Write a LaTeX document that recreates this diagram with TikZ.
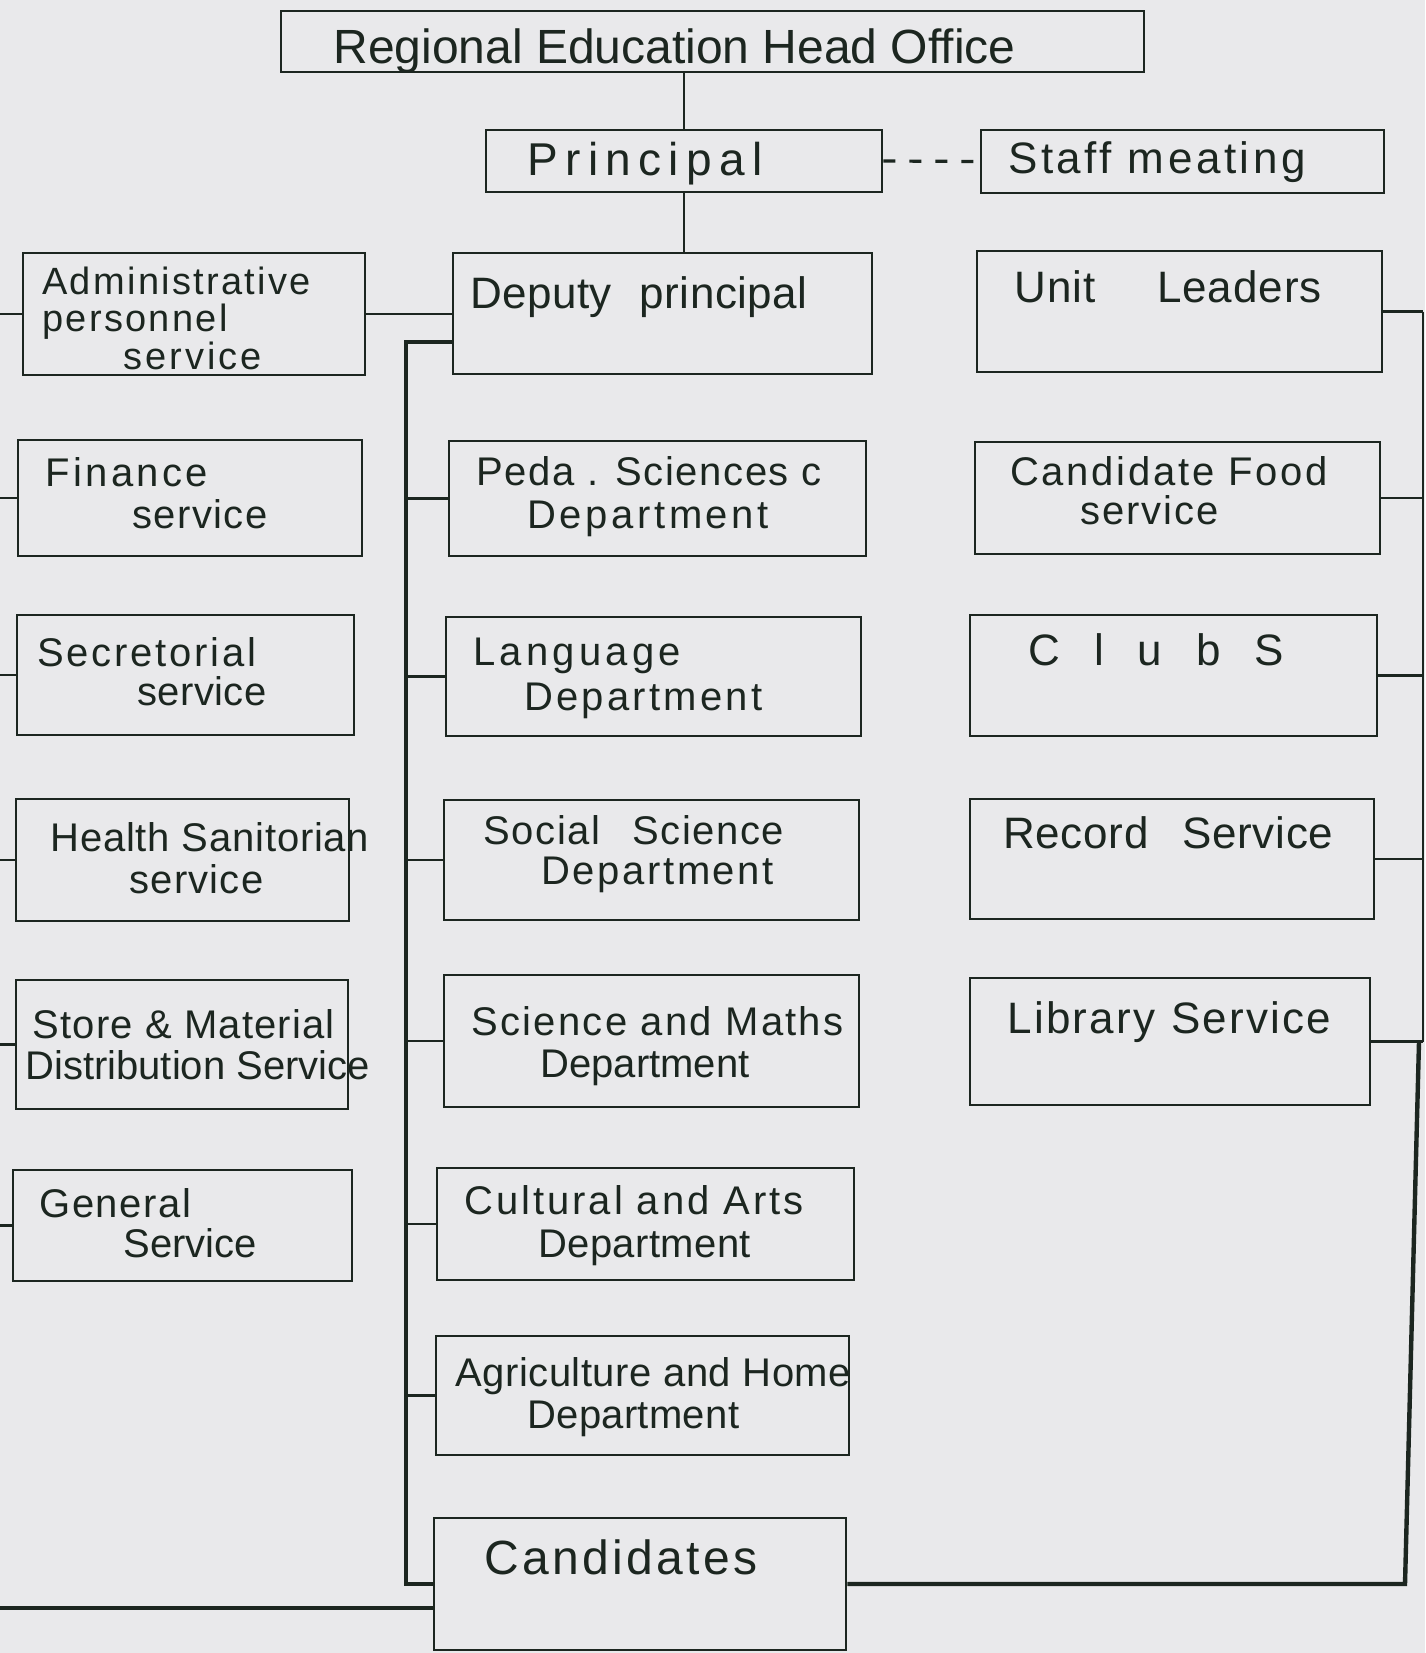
\documentclass[tikz,border=0pt]{standalone}
\usepackage{fontspec}
\setmainfont{Liberation Sans}
\usetikzlibrary{fit}
\definecolor{ink}{HTML}{1C2620}
\definecolor{paper}{HTML}{E9E9EB}
\newcommand\ftx[2]{\fontsize{#1}{#1}\selectfont\addfontfeatures{LetterSpace=#2}}
\begin{document}
\begin{tikzpicture}[x=0.5pt,y=-0.5pt,
  box/.style={draw=ink, line width=1.4pt, inner sep=0pt},
  lbl/.style={anchor=base west, inner sep=0pt, text=ink},
  conn/.style={draw=ink, line width=1.4pt},
  trunk/.style={draw=ink, line width=2.2pt}]
\useasboundingbox (0,0) rectangle (1425,1653);
\fill[paper] (0,0) rectangle (1425,1653);

% ---- boxes ----
\node[box, fit={(281,11)(1144,72)}] (head) {};
\node[box, fit={(486,130)(882,192)}] (principal) {};
\node[box, fit={(981,130)(1384,193)}] (staff) {};

\node[box, fit={(23,253)(365,375)}] (admin) {};
\node[box, fit={(18,440)(362,556)}] (fin) {};
\node[box, fit={(17,615)(354,735)}] (sec) {};
\node[box, fit={(16,799)(349,921)}] (health) {};
\node[box, fit={(16,980)(348,1109)}] (store) {};
\node[box, fit={(13,1170)(352,1281)}] (gen) {};

\node[box, fit={(453,253)(872,374)}] (deputy) {};
\node[box, fit={(449,441)(866,556)}] (peda) {};
\node[box, fit={(446,617)(861,736)}] (lang) {};
\node[box, fit={(444,800)(859,920)}] (social) {};
\node[box, fit={(444,975)(859,1107)}] (scimath) {};
\node[box, fit={(437,1168)(854,1280)}] (cult) {};
\node[box, fit={(436,1336)(849,1455)}] (agri) {};
\node[box, fit={(434,1518)(846,1650)}] (cand) {};

\node[box, fit={(977,251)(1382,372)}] (unit) {};
\node[box, fit={(975,442)(1380,554)}] (food) {};
\node[box, fit={(970,615)(1377,736)}] (clubs) {};
\node[box, fit={(970,799)(1374,919)}] (record) {};
\node[box, fit={(970,978)(1370,1105)}] (library) {};

% ---- texts ----
\node[lbl, font=\ftx{24}{0}] (t-head) at (333,64) {Regional Education Head Office};
\node[lbl, font=\ftx{23}{16}] (t-princ) at (527,176) {Principal};
\node[lbl, font=\ftx{22}{8}] (t-staff) at (1008,174) {Staff meating};

\node[lbl, font=\ftx{19}{6}] (t-adm1) at (42,294) {Administrative};
\node[lbl, font=\ftx{19}{6}] (t-adm2) at (42,331) {personnel};
\node[lbl, font=\ftx{19}{8}] (t-adm3) at (123,369) {service};
\node[lbl, font=\ftx{20}{8.5}] (t-fin1) at (45,486) {Finance};
\node[lbl, font=\ftx{20}{3.5}] (t-fin2) at (132,528) {service};
\node[lbl, font=\ftx{20}{7}] (t-sec1) at (37,666) {Secretorial};
\node[lbl, font=\ftx{20}{1}] (t-sec2) at (137,705) {service};
\node[lbl, font=\ftx{20}{2}] (t-hea1) at (50,851) {Health Sanitorian};
\node[lbl, font=\ftx{20}{3}] (t-hea2) at (129,893) {service};
\node[lbl, font=\ftx{20}{3}] (t-sto1) at (32,1038) {Store \& Material};
\node[lbl, font=\ftx{20}{0}] (t-sto2) at (25,1079) {Distribution Service};
\node[lbl, font=\ftx{20}{4}] (t-gen1) at (39,1217) {General};
\node[lbl, font=\ftx{20}{0}] (t-gen2) at (123,1257) {Service};

\node[lbl, font=\ftx{22}{1}] (t-dep) at (470,308) {Deputy\hspace{14pt}principal};
\node[lbl, font=\ftx{20}{4}] (t-ped1) at (476,485) {Peda . Sciences c};
\node[lbl, font=\ftx{20}{9}] (t-ped2) at (527,528) {Department};
\node[lbl, font=\ftx{20}{10.5}] (t-lan1) at (473,665) {Language};
\node[lbl, font=\ftx{20}{8}] (t-lan2) at (524,710) {Department};
\node[lbl, font=\ftx{20}{4}] (t-soc1) at (483,844) {Social\hspace{16pt}Science};
\node[lbl, font=\ftx{20}{6.5}] (t-soc2) at (541,884) {Department};
\node[lbl, font=\ftx{20}{5.7}] (t-sci1) at (471,1035) {Science and Maths};
\node[lbl, font=\ftx{20}{0}] (t-sci2) at (540,1077) {Department};
\node[lbl, font=\ftx{20}{7.4}] (t-cul1) at (464,1214) {Cultural and Arts};
\node[lbl, font=\ftx{20}{1}] (t-cul2) at (538,1257) {Department};
\node[lbl, font=\ftx{20}{1.3}] (t-agr1) at (455,1386) {Agriculture and Home};
\node[lbl, font=\ftx{20}{0.8}] (t-agr2) at (527,1428) {Department};
\node[lbl, font=\ftx{24}{7}] (t-cand) at (484,1574) {Candidates};

\node[lbl, font=\ftx{22}{2}] (t-unit) at (1014,302) {Unit\hspace{31pt}Leaders};
\node[lbl, font=\ftx{20}{6.8}] (t-foo1) at (1010,485) {Candidate Food};
\node[lbl, font=\ftx{20}{5}] (t-foo2) at (1080,524) {service};
\node[lbl, font=\ftx{22}{0}] (t-club) at (1028,665) {C\hspace{17pt}l\hspace{17pt}u\hspace{17pt}b\hspace{17pt}S};
\node[lbl, font=\ftx{22}{1.5}] (t-rec) at (1003,848) {Record\hspace{17pt}Service};
\node[lbl, font=\ftx{22}{5}] (t-lib) at (1007,1033) {Library\hspace{8pt}Service};

% ---- connectors ----
\coordinate (le) at (0,0);
\coordinate (re) at (1423,0);
\coordinate (rbt) at (1419,0);
\coordinate (rbb) at (1405,0);
\coordinate (sp) at (406,0);
\coordinate (spt) at (406,342);
\coordinate (bl) at (0,1608);

\draw[conn] (principal.north) -- (principal.north |- head.south);
\draw[conn] (principal.south) -- (principal.south |- deputy.north);
\draw[draw=ink, line width=1.6pt, dash pattern=on 6pt off 7pt] (principal.east) -- (staff.west);

\draw[conn] (admin.east) -- (admin.east -| deputy.west);
\foreach \n in {admin,fin,sec,health,store,gen}
  \draw[conn] (\n.west) -- (\n.west -| le);

\draw[trunk] (spt -| deputy.west) -- (spt) -- (cand.west -| sp) -- (cand.west);
\foreach \n in {peda,lang,social,scimath,cult,agri}
  \draw[conn] (\n.west) -- (\n.west -| sp);

\draw[trunk] (bl) -- (bl -| cand.west);

\foreach \n in {unit,food,clubs,record,library}
  \draw[conn] (\n.east) -- (\n.east -| re);
\draw[conn] (unit.east -| re) -- (library.east -| re);
\draw[trunk] (library.east -| rbt) -- (cand.east -| rbb) -- (cand.east);
\end{tikzpicture}
\end{document}
